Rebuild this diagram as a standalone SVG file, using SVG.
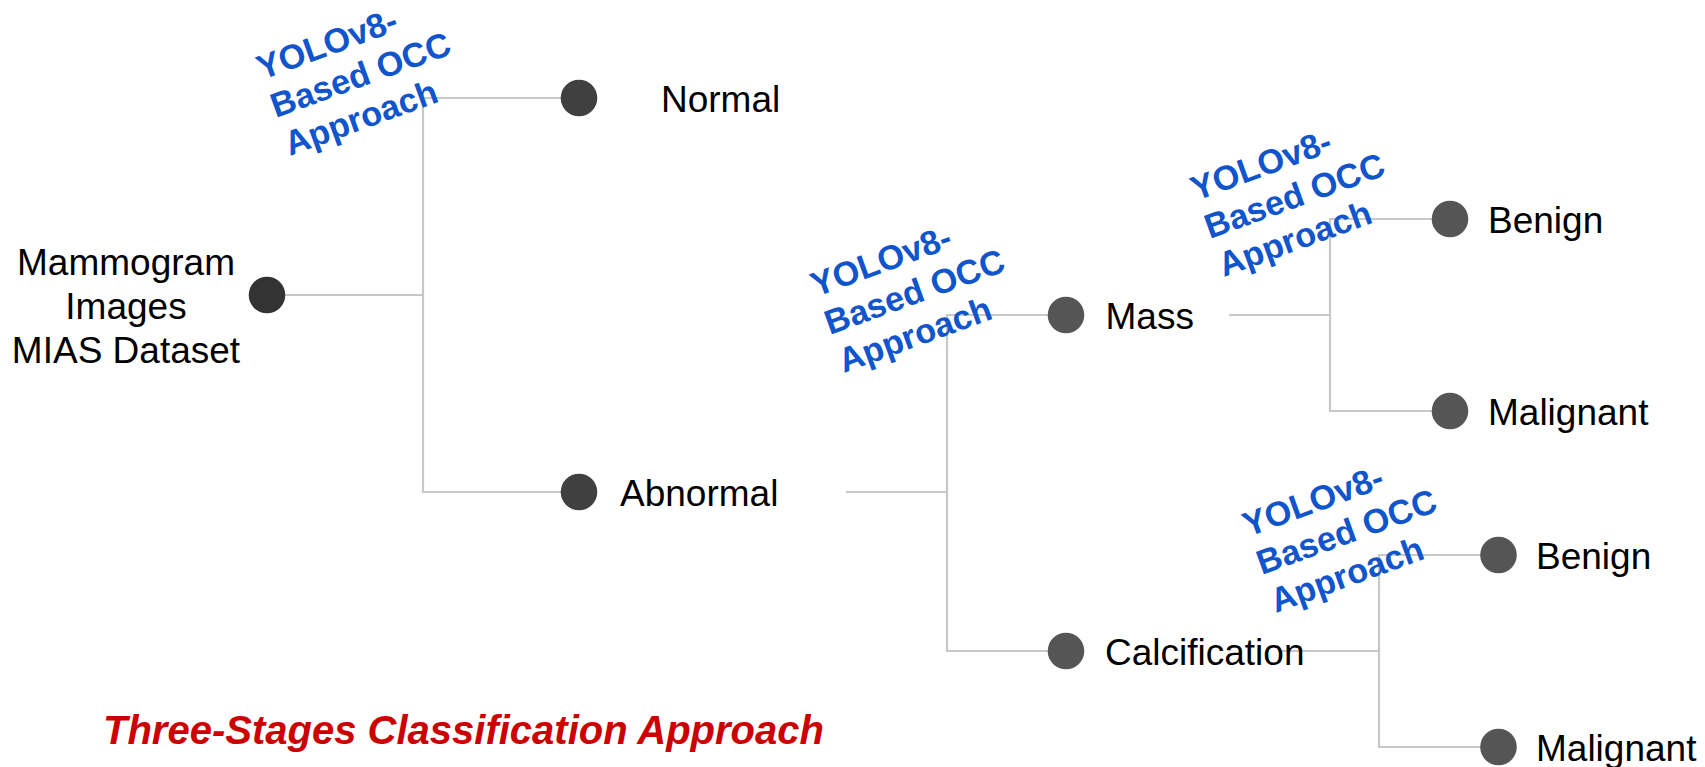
<svg xmlns="http://www.w3.org/2000/svg" width="1705" height="767" viewBox="0 0 1705 767">
  <style>
    .conn { stroke: #c8c8c8; stroke-width: 2.2; fill: none; }
    .lbl { font-family: "Liberation Sans", Arial, sans-serif; font-size: 37px; fill: #000; }
    .occ { font-family: "Liberation Sans", Arial, sans-serif; font-size: 34.3px; font-weight: bold; fill: #1155cc; }
    .title { font-family: "Liberation Sans", Arial, sans-serif; font-size: 40px; font-weight: bold; font-style: italic; fill: #cc0000; }
    .d0 { fill: #333333; }
    .d1 { fill: #404040; }
    .d2 { fill: #555555; }
  </style>
  <rect width="1705" height="767" fill="#ffffff"/>

  <!-- tree connectors -->
  <g id="connectors">
    <path class="conn" d="M285,295 H423"/>
    <path class="conn" d="M579,98 H423 V492 H579"/>
    <path class="conn" d="M846,492 H947"/>
    <path class="conn" d="M1066,315 H947 V651 H1066"/>
    <path class="conn" d="M1229,315 H1330"/>
    <path class="conn" d="M1450,219 H1330 V411 H1450"/>
    <path class="conn" d="M1278,651 H1379"/>
    <path class="conn" d="M1498,555 H1379 V747 H1498"/>
  </g>

  <!-- classifier labels on each split -->
  <g id="occ-stage1">
    <text class="occ" transform="translate(262,80) rotate(-20)"><tspan x="0" y="0">YOLOv8-</tspan><tspan x="0" y="40.5">Based OCC</tspan><tspan x="0" y="81">Approach</tspan></text>
  </g>
  <g id="occ-stage2">
    <text class="occ" transform="translate(816,297) rotate(-20)"><tspan x="0" y="0">YOLOv8-</tspan><tspan x="0" y="40.5">Based OCC</tspan><tspan x="0" y="81">Approach</tspan></text>
  </g>
  <g id="occ-stage3-mass">
    <text class="occ" transform="translate(1196,201) rotate(-20)"><tspan x="0" y="0">YOLOv8-</tspan><tspan x="0" y="40.5">Based OCC</tspan><tspan x="0" y="81">Approach</tspan></text>
  </g>
  <g id="occ-stage3-calc">
    <text class="occ" transform="translate(1248,537) rotate(-20)"><tspan x="0" y="0">YOLOv8-</tspan><tspan x="0" y="40.5">Based OCC</tspan><tspan x="0" y="81">Approach</tspan></text>
  </g>

  <!-- nodes -->
  <g id="node-dataset">
    <circle class="d0" cx="267" cy="295" r="18.3"/>
    <text class="lbl" text-anchor="middle"><tspan x="126" y="275">Mammogram</tspan><tspan x="126" y="318.5">Images</tspan><tspan x="126" y="362.5">MIAS Dataset</tspan></text>
  </g>
  <g id="node-normal">
    <circle class="d1" cx="579" cy="98" r="18.3"/>
    <text class="lbl" x="661" y="111.5">Normal</text>
  </g>
  <g id="node-abnormal">
    <circle class="d1" cx="579" cy="492" r="18.3"/>
    <text class="lbl" x="620" y="505.5">Abnormal</text>
  </g>
  <g id="node-mass">
    <circle class="d2" cx="1066" cy="315" r="18.3"/>
    <text class="lbl" x="1105.5" y="328.5">Mass</text>
  </g>
  <g id="node-calcification">
    <circle class="d2" cx="1066" cy="651" r="18.3"/>
    <text class="lbl" x="1105" y="664.5">Calcification</text>
  </g>
  <g id="node-mass-benign">
    <circle class="d2" cx="1450" cy="219" r="18.3"/>
    <text class="lbl" x="1488" y="232.5">Benign</text>
  </g>
  <g id="node-mass-malignant">
    <circle class="d2" cx="1450" cy="411" r="18.3"/>
    <text class="lbl" x="1488" y="424.5">Malignant</text>
  </g>
  <g id="node-calc-benign">
    <circle class="d2" cx="1498.5" cy="555" r="18.3"/>
    <text class="lbl" x="1536" y="568.5">Benign</text>
  </g>
  <g id="node-calc-malignant">
    <circle class="d2" cx="1498.5" cy="747" r="18.3"/>
    <text class="lbl" x="1536" y="760.5">Malignant</text>
  </g>

  <text id="title" class="title" x="103" y="744">Three-Stages Classification Approach</text>
</svg>
